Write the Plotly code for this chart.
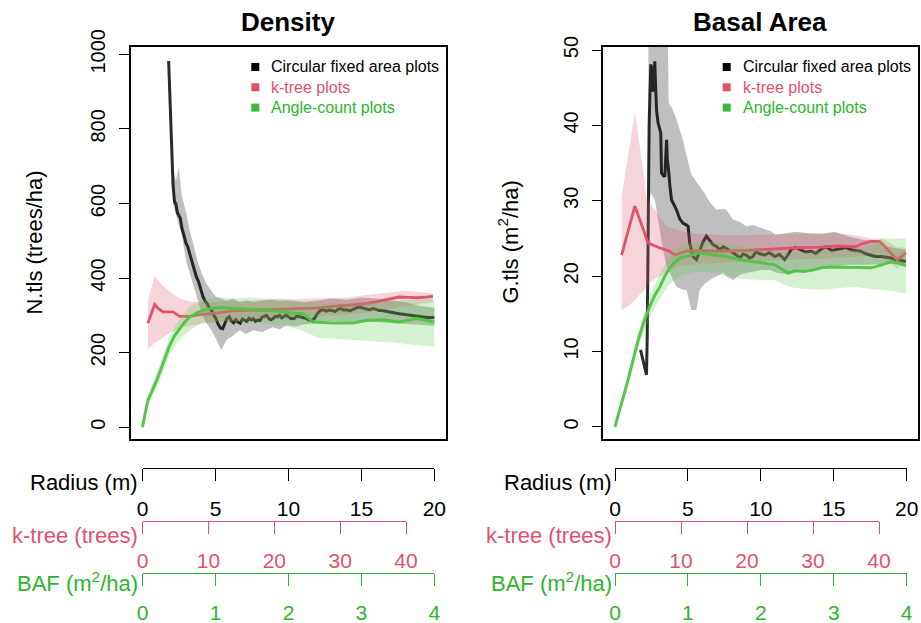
import plotly.graph_objects as go

# ---------------- DATA ----------------
# Density panel (N.tls, trees/ha) -- x in radius units (m)
dens_circ_x = [1.80,1.90,2.00,2.10,2.20,2.30,2.40,2.50,2.60,2.70,2.80,2.90,3.00,3.10,3.20,3.35,3.50,3.70,3.85,4.00,
               4.15,4.30,4.45,4.60,4.75,4.90,5.05,5.20,5.35,5.50,5.65,5.80,5.95,6.10,6.25,6.40,6.55,6.70,6.85,7.00,
               7.15,7.30,7.45,7.60,7.75,7.90,8.05,8.20,8.35,8.50,8.65,8.80,8.95,9.10,9.25,9.40,9.55,9.70,9.85,10.0,
               10.2,10.4,10.6,10.8,11.0,11.2,11.4,11.6,11.8,12.0,12.2,12.4,12.6,12.8,13.0,13.2,13.4,13.6,13.8,14.0,
               14.2,14.4,14.6,14.8,15.0,15.2,15.4,15.6,15.8,16.0,16.2,16.4,16.6,16.8,17.0,17.3,17.6,18.0,18.3,18.6,
               18.9,19.2,19.5,19.8,20.0]
dens_circ_y = [982,870,760,650,605,598,575,565,560,535,520,505,492,485,470,450,430,403,390,370,
               350,338,330,318,312,300,290,275,266,264,278,292,296,285,280,288,282,279,290,286,
               284,292,288,291,284,287,286,295,298,300,292,288,291,297,296,300,293,297,300,296,
               291,292,298,296,295,292,288,286,292,305,313,315,311,314,313,310,316,318,314,315,
               312,316,320,322,321,318,316,315,318,316,313,313,311,310,309,306,304,302,300,298,
               297,296,294,294,294]
dens_circ_band_x = [2.1,2.3,2.5,2.7,3.0,3.24,3.5,3.81,4.1,4.38,4.73,5.07,5.4,5.75,6.2,6.66,7.1,7.58,8.2,8.95,
                    9.4,9.86,10.5,11.0,12.0,13.0,14.0,15.0,16.0,17.0,18.0,19.0,20.0]
dens_circ_band_hi = [690,660,700,620,575,528,490,439,410,385,365,349,345,340,345,335,340,335,340,342,
                     338,340,338,335,340,345,342,348,345,340,335,325,320]
dens_circ_band_lo = [600,570,540,515,445,415,380,340,300,280,260,235,206,233,245,260,250,260,255,268,
                     262,273,270,275,280,285,282,285,282,280,278,275,272]

dens_k_x = [0.38,0.84,1.10,1.41,2.10,2.55,3.24,3.92,5.07,6.20,7.30,8.50,9.60,10.77,12.0,13.05,14.2,15.3,16.0,16.5,
            17.0,17.6,18.2,18.8,19.4,19.9]
dens_k_y = [279,329,318,309,309,297,297,302,306,312,313,315,316,318,320,324,327,331,336,340,
            344,349,348,347,349,351]
dens_k_band_x = [0.38,0.84,1.4,2.0,2.6,3.2,4.0,5.0,6.0,8.0,10.0,12.0,14.0,15.5,17.0,18.0,19.0,19.9]
dens_k_band_hi = [340,405,380,360,345,338,335,335,338,340,342,345,348,355,362,366,362,360]
dens_k_band_lo = [210,225,240,255,265,272,278,282,285,290,292,298,302,308,318,325,330,335]

dens_ac_x = [0.0,0.38,0.70,1.07,1.50,1.87,2.20,2.55,2.90,3.24,3.70,4.15,4.70,5.30,6.20,7.30,8.50,9.50,10.1,11.0,
             11.4,11.7,12.3,13.05,14.4,15.3,16.5,17.6,18.8,20.0]
dens_ac_y = [0,72,100,134,180,219,245,264,282,295,306,313,318,321,318,316,313,310,306,304,
             292,282,281,279,279,286,288,282,291,282]
dens_ac_band_x = [0.0,0.38,1.07,1.87,2.55,3.24,4.15,5.3,6.2,7.3,8.5,9.5,10.5,11.5,12.0,13.0,14.0,15.0,16.0,17.0,
                  18.0,19.0,20.0]
dens_ac_band_hi = [3,85,155,245,290,325,342,348,345,348,345,345,340,335,332,330,330,332,335,338,340,342,345]
dens_ac_band_lo = [-3,60,115,195,235,260,280,285,282,280,278,272,265,250,240,238,235,232,230,228,225,220,215]

# Basal area panel (G.tls, m2/ha)
ba_circ_x = [1.76,1.90,2.05,2.17,2.22,2.26,2.30,2.35,2.42,2.47,2.52,2.58,2.63,2.68,2.74,2.80,2.86,2.97,3.08,3.15,
             3.20,3.30,3.43,3.50,3.55,3.60,3.66,3.78,3.89,4.05,4.23,4.45,4.69,4.90,5.03,5.14,5.25,5.37,5.60,5.83,
             6.05,6.29,6.50,6.74,7.00,7.20,7.45,7.66,7.90,8.11,8.35,8.57,8.80,9.03,9.25,9.49,9.70,9.90,10.3,10.6,
             11.0,11.3,11.66,11.9,12.1,12.4,12.8,13.1,13.5,13.8,14.2,14.5,14.9,15.2,15.55,15.9,16.2,16.5,16.9,17.2,
             17.6,17.9,18.3,18.7,19.0,19.3,19.66,20.0]
ba_circ_y = [10.2,9.0,7.8,6.9,12.0,22.0,32.0,40.0,45.0,48.1,47.5,44.5,44.8,47.8,48.5,45.0,42.0,40.3,39.5,39.0,
             33.7,33.4,33.2,38.0,38.1,35.5,34.6,32.0,30.1,29.5,28.8,27.6,27.0,26.8,26.6,24.4,23.3,22.6,22.2,23.5,
             24.5,25.3,24.8,24.2,23.9,23.5,23.9,23.7,23.4,23.1,22.8,22.4,22.9,22.8,22.4,22.6,23.3,23.0,22.8,23.1,
             22.6,22.9,22.2,22.8,23.5,23.8,23.5,23.2,23.3,23.0,23.6,23.9,23.4,23.5,23.6,23.8,23.5,23.4,23.3,23.0,
             22.8,22.6,22.6,22.5,22.4,22.2,22.1,21.9]
ba_circ_band_x = [2.3,2.5,2.75,3.0,3.3,3.55,3.64,3.7,4.0,4.23,4.67,4.92,5.14,5.26,5.6,5.83,6.17,6.52,6.97,7.43,
                  7.66,8.11,8.6,9.03,9.5,10.05,10.7,11.0,11.9,12.46,13.26,14.2,15.1,16.0,17.1,18.06,18.75,20.0]
ba_circ_band_hi = [55,55,55,55,55,52,50.5,43,42,40.8,38.1,36,34.6,33.5,32.5,31.9,31.0,29.8,28.8,28.9,
                   28.8,27.5,27.2,26.6,26.8,26.4,26.0,25.5,25.8,25.9,25.7,25.6,25.9,25.3,24.8,24.8,23.9,23.5]
ba_circ_band_lo = [30,31,30,27,23.5,21.3,21,20.8,19.5,18.6,18.2,18.2,16.5,15.5,15.5,18.2,19.0,19.5,20.0,20.4,
                   20.0,19.5,20.2,20.4,20.6,20.8,20.8,20.5,20.2,20.6,20.8,21.1,21.3,21.5,21.5,21.5,21.6,21.7]

ba_k_x = [0.46,1.37,2.28,3.0,3.77,4.12,4.92,5.83,7.0,8.11,9.0,9.95,10.9,11.9,13.0,14.2,15.3,16.5,17.0,17.6,
          18.2,18.75,19.1,19.4,19.7,20.0]
ba_k_y = [22.8,29.3,24.4,23.8,23.3,22.8,23.3,23.4,23.3,23.3,23.4,23.5,23.6,23.7,23.8,23.85,24.0,23.9,24.3,24.6,
          24.6,23.5,22.8,22.2,22.6,23.1]
ba_k_band_x = [0.46,0.9,1.37,1.8,2.17,2.4,3.0,3.55,4.23,5.0,6.0,8.0,10.0,12.0,14.2,16.0,17.6,18.3,18.75,19.4,20.0]
ba_k_band_hi = [30.5,36.0,41.7,36.0,30.5,29.7,28.0,26.6,26.2,25.8,25.6,25.4,25.5,25.6,25.7,25.6,25.0,25.0,24.6,23.8,23.8]
ba_k_band_lo = [15.5,16.0,16.8,17.8,18.6,19.2,19.9,20.4,21.3,21.5,21.6,21.8,22.0,22.2,22.3,22.5,22.8,22.6,22.0,21.0,21.7]

ba_ac_x = [0.0,0.8,1.6,2.0,2.4,2.75,3.09,3.43,3.77,4.1,4.46,4.9,5.37,5.83,6.4,6.97,7.66,8.1,8.57,9.2,
           9.95,10.5,11.0,11.5,11.9,12.4,13.0,13.6,14.2,14.8,15.3,16.0,16.5,17.0,17.6,18.0,18.3,18.7,19.0,19.5,20.0]
ba_ac_y = [0.0,5.5,11.5,14.0,16.0,17.5,18.6,20.0,21.1,21.8,22.4,22.6,22.8,23.1,22.9,22.8,22.6,22.4,22.2,22.0,
           21.8,21.6,21.5,20.9,20.4,20.7,20.6,20.8,21.1,21.2,21.2,21.1,21.1,21.1,21.1,21.3,21.5,21.7,21.9,21.7,21.4]
ba_ac_band_x = [0.0,0.8,1.6,2.4,3.09,3.77,4.46,5.37,6.4,7.66,8.57,9.95,11.0,11.9,13.0,14.2,15.3,16.5,17.6,18.3,19.2,20.0]
ba_ac_band_hi = [0.3,6.2,12.5,17.5,20.3,22.6,24.0,24.5,24.6,24.3,24.0,23.6,23.3,23.0,23.2,23.4,23.4,23.5,24.0,25.0,25.0,25.0]
ba_ac_band_lo = [-0.3,4.8,10.5,14.5,17.0,19.0,20.0,20.5,20.5,20.0,19.7,19.5,19.5,18.6,18.3,18.2,18.4,18.6,18.3,18.2,18.0,17.7]

# Axis ticks
dens_yticks = [0, 200, 400, 600, 800, 1000]
ba_yticks = [0, 10, 20, 30, 40, 50]
radius_ticks = [0, 5, 10, 15, 20]
ktree_ticks = [0, 10, 20, 30, 40]
baf_ticks = [0, 1, 2, 3, 4]

legend_names = ["Circular fixed area plots", "k-tree plots", "Angle-count plots"]

# ---------------- STYLE ----------------
W, H = 921, 623
FONT = "Liberation Sans, Arial, sans-serif"
C_BLACK = "#000000"
C_RED = "#DF536B"
C_GREEN_TXT = "#2DB52D"
BAND = {"k": "rgba(0,0,0,0.25)", "r": "rgba(223,83,107,0.25)", "g": "rgba(97,208,79,0.27)"}
LINE = {"k": "rgba(20,20,20,0.9)", "r": C_RED, "g": "rgba(80,195,70,0.95)"}
LEG_SQ = [C_BLACK, C_RED, "#3DB83D"]
LEG_TXT = [C_BLACK, C_RED, C_GREEN_TXT]


def fx(p):
    return p / W


def fy(p):
    return 1 - p / H


fig = go.Figure()


def band(x, lo, hi, col, xa, ya):
    fig.add_trace(go.Scatter(x=list(x) + list(x)[::-1], y=list(hi) + list(lo)[::-1], fill="toself",
                             fillcolor=col, line=dict(width=0), mode="lines", hoverinfo="skip",
                             showlegend=False, xaxis=xa, yaxis=ya))


def line(x, y, col, w, xa, ya):
    fig.add_trace(go.Scatter(x=x, y=y, mode="lines", line=dict(color=col, width=w), hoverinfo="skip",
                             showlegend=False, xaxis=xa, yaxis=ya))


# Density panel
band(dens_circ_band_x, dens_circ_band_lo, dens_circ_band_hi, BAND["k"], "x", "y")
line(dens_circ_x, dens_circ_y, LINE["k"], 3, "x", "y")
band(dens_k_band_x, dens_k_band_lo, dens_k_band_hi, BAND["r"], "x", "y")
line(dens_k_x, dens_k_y, LINE["r"], 2.8, "x", "y")
band(dens_ac_band_x, dens_ac_band_lo, dens_ac_band_hi, BAND["g"], "x", "y")
line(dens_ac_x, dens_ac_y, LINE["g"], 3, "x", "y")

# Basal area panel
band(ba_circ_band_x, ba_circ_band_lo, ba_circ_band_hi, BAND["k"], "x2", "y2")
line(ba_circ_x, ba_circ_y, LINE["k"], 3, "x2", "y2")
band(ba_k_band_x, ba_k_band_lo, ba_k_band_hi, BAND["r"], "x2", "y2")
line(ba_k_x, ba_k_y, LINE["r"], 2.8, "x2", "y2")
band(ba_ac_band_x, ba_ac_band_lo, ba_ac_band_hi, BAND["g"], "x2", "y2")
line(ba_ac_x, ba_ac_y, LINE["g"], 3, "x2", "y2")

# Dummy invisible traces to materialise the secondary bottom axes
extra = [("x3", "y3", radius_ticks), ("x4", "y4", ktree_ticks), ("x5", "y5", baf_ticks),
         ("x6", "y3", radius_ticks), ("x7", "y4", ktree_ticks), ("x8", "y5", baf_ticks)]
for xa, ya, t in extra:
    fig.add_trace(go.Scatter(x=t, y=[0] * len(t), mode="markers", marker=dict(opacity=0),
                             hoverinfo="skip", showlegend=False, xaxis=xa, yaxis=ya))

# ---------------- LAYOUT ----------------
box_top, box_bot = 46.7, 438.5
main_x = dict(showline=True, mirror=True, linecolor="black", linewidth=1.5, ticks="",
              showticklabels=False, showgrid=False, zeroline=False, range=[-0.8, 20.8], fixedrange=True)
main_y = dict(showline=True, mirror=True, linecolor="black", linewidth=1.5, ticks="outside",
              ticklen=10, tickwidth=1.3, tickcolor="black", showgrid=False, zeroline=False,
              tickangle=-90, tickfont=dict(size=20, color="black", family=FONT),
              ticklabelstandoff=6, fixedrange=True)

layout = dict(
    width=W, height=H, margin=dict(l=0, r=0, t=0, b=0, autoexpand=False),
    paper_bgcolor="white", plot_bgcolor="white", showlegend=False,
    font=dict(family=FONT, color="black"),
    xaxis=dict(main_x, domain=[fx(130.7), fx(446)], anchor="y"),
    yaxis=dict(main_y, domain=[fy(box_bot), fy(box_top)], anchor="x", range=[-30.5, 1020.5],
               tickvals=dens_yticks, ticktext=[str(v) for v in dens_yticks]),
    xaxis2=dict(main_x, domain=[fx(603.3), fx(917.5)], anchor="y2"),
    yaxis2=dict(main_y, domain=[fy(box_bot), fy(box_top)], anchor="x2", range=[-1.55, 50.45],
                tickvals=ba_yticks, ticktext=[str(v) for v in ba_yticks]),
)

rows = {"y3": 468.3, "y4": 520.5, "y5": 573.0}
for ya, ypix in rows.items():
    layout["yaxis" + ya[1:]] = dict(domain=[fy(ypix), fy(ypix) + 0.01], visible=False, range=[0, 1],
                                    anchor="x" + ya[1:], fixedrange=True)

bottom_specs = [
    ("xaxis3", "y3", [142.7, 434.3], [0, 20], radius_ticks, "black", "black"),
    ("xaxis4", "y4", [142.7, 406.0], [0, 40], ktree_ticks, C_RED, C_RED),
    ("xaxis5", "y5", [142.7, 434.3], [0, 4], baf_ticks, C_GREEN_TXT, C_GREEN_TXT),
    ("xaxis6", "y3", [615.0, 906.7], [0, 20], radius_ticks, "black", "black"),
    ("xaxis7", "y4", [615.0, 879.0], [0, 40], ktree_ticks, C_RED, C_RED),
    ("xaxis8", "y5", [615.0, 906.7], [0, 4], baf_ticks, C_GREEN_TXT, C_GREEN_TXT),
]
for name, ya, dom, rng, ticks, lc, tc in bottom_specs:
    layout[name] = dict(domain=[fx(dom[0]), fx(dom[1])], anchor=ya, range=rng, side="bottom",
                        showline=True, linecolor=lc, linewidth=1.3, ticks="outside", ticklen=12,
                        tickwidth=1.3, tickcolor=lc, tickvals=ticks, ticktext=[str(t) for t in ticks],
                        tickfont=dict(size=21, color=tc, family=FONT), showgrid=False, zeroline=False,
                        ticklabelstandoff=9, fixedrange=True)

fig.update_layout(**layout)

# Titles, axis labels and legend texts
ann = []
shapes = []
ann.append(dict(text="<b>Density</b>", x=fx(288.3), y=fy(22), xref="paper", yref="paper",
                showarrow=False, font=dict(size=26, family=FONT, color="black"), xanchor="center", yanchor="middle"))
ann.append(dict(text="<b>Basal Area</b>", x=fx(760.4), y=fy(22), xref="paper", yref="paper",
                showarrow=False, font=dict(size=26, family=FONT, color="black"), xanchor="center", yanchor="middle"))
ann.append(dict(text="N.tls (trees/ha)", x=fx(35), y=fy((box_top + box_bot) / 2), xref="paper", yref="paper",
                showarrow=False, textangle=-90, font=dict(size=22, family=FONT, color="black"),
                xanchor="center", yanchor="middle"))
ann.append(dict(text="G.tls (m<sup>2</sup>/ha)", x=fx(508), y=fy((box_top + box_bot) / 2), xref="paper",
                yref="paper", showarrow=False, textangle=-90, font=dict(size=22, family=FONT, color="black"),
                xanchor="center", yanchor="middle"))
for xr in (139.5, 614.0):
    ann.append(dict(text="Radius (m)", x=fx(xr), y=fy(482), xref="paper", yref="paper", showarrow=False,
                    font=dict(size=22, family=FONT, color="black"), xanchor="right", yanchor="middle"))
    ann.append(dict(text="k-tree (trees)", x=fx(xr), y=fy(535), xref="paper", yref="paper", showarrow=False,
                    font=dict(size=22, family=FONT, color=C_RED), xanchor="right", yanchor="middle"))
    ann.append(dict(text="BAF (m<sup>2</sup>/ha)", x=fx(xr), y=fy(582), xref="paper", yref="paper",
                    showarrow=False, font=dict(size=22, family=FONT, color=C_GREEN_TXT),
                    xanchor="right", yanchor="middle"))

# Legend (square key + coloured label), one per panel
for sq_x, txt_x in ((255.3, 268.5), (726.7, 740.5)):
    for i, (nm, sc, tc) in enumerate(zip(legend_names, LEG_SQ, LEG_TXT)):
        yc = 67 + 20.3 * i
        shapes.append(dict(type="rect", xref="paper", yref="paper",
                           x0=fx(sq_x - 4), x1=fx(sq_x + 4), y0=fy(yc + 4), y1=fy(yc - 4),
                           fillcolor=sc, line=dict(width=0)))
        ann.append(dict(text=nm, x=fx(txt_x), y=fy(yc), xref="paper", yref="paper", showarrow=False,
                        font=dict(size=16, family=FONT, color=tc), xanchor="left", yanchor="middle"))

fig.update_layout(annotations=ann, shapes=shapes)

fig.write_html("out.html")
